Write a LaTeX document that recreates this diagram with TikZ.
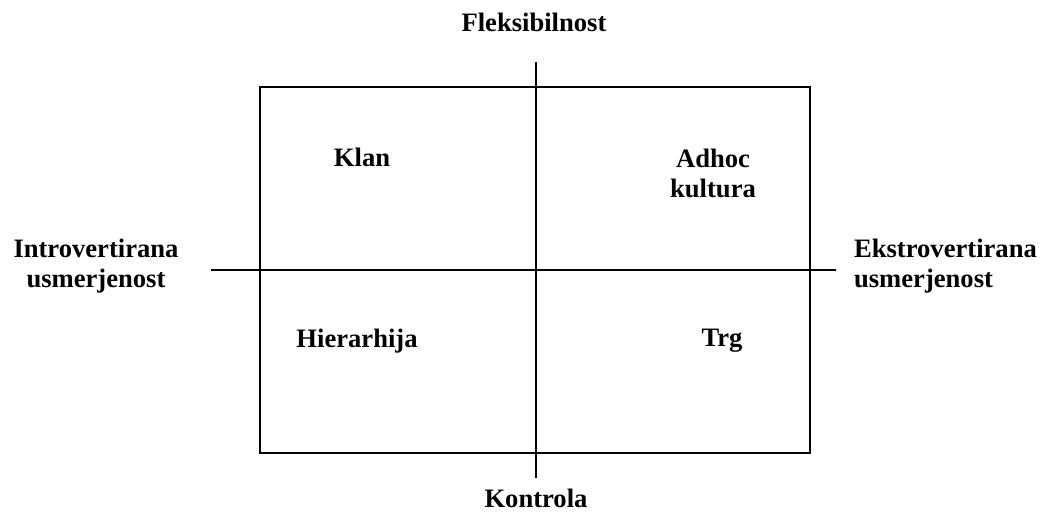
\documentclass[tikz,border=0pt]{standalone}
\usepackage{fontspec}
\setmainfont{Liberation Serif}
\begin{document}
\begin{tikzpicture}[x=0.5pt,y=-0.5pt,line width=1.1pt,
  lbl/.style={font=\fontsize{13.3}{15}\selectfont\bfseries,inner sep=0pt}]
\useasboundingbox (0,0) rectangle (1040,517);
\draw (260,87) rectangle (810,453);
\coordinate (top) at (536,62);
\coordinate (bottom) at (536,478);
\coordinate (left) at (211,270);
\coordinate (right) at (836,270);
\draw (top) -- (bottom);
\draw (left) -- (right);
\node[lbl] (flex) at (534,22) {Fleksibilnost};
\node[lbl] (kontrola) at (536,498) {Kontrola};
\node[lbl,align=center] (intro) at (96,266) {Introvertirana\\usmerjenost};
\node[lbl,align=left,anchor=west] (ekstro) at (853,266) {Ekstrovertirana\\usmerjenost};
\node[lbl] (klan) at (362,157) {Klan};
\node[lbl,align=center] (adhoc) at (713,173) {Adhoc\\kultura};
\node[lbl] (hier) at (357,341) {Hierarhija};
\node[lbl] (trg) at (722,341) {Trg};
\end{tikzpicture}
\end{document}
